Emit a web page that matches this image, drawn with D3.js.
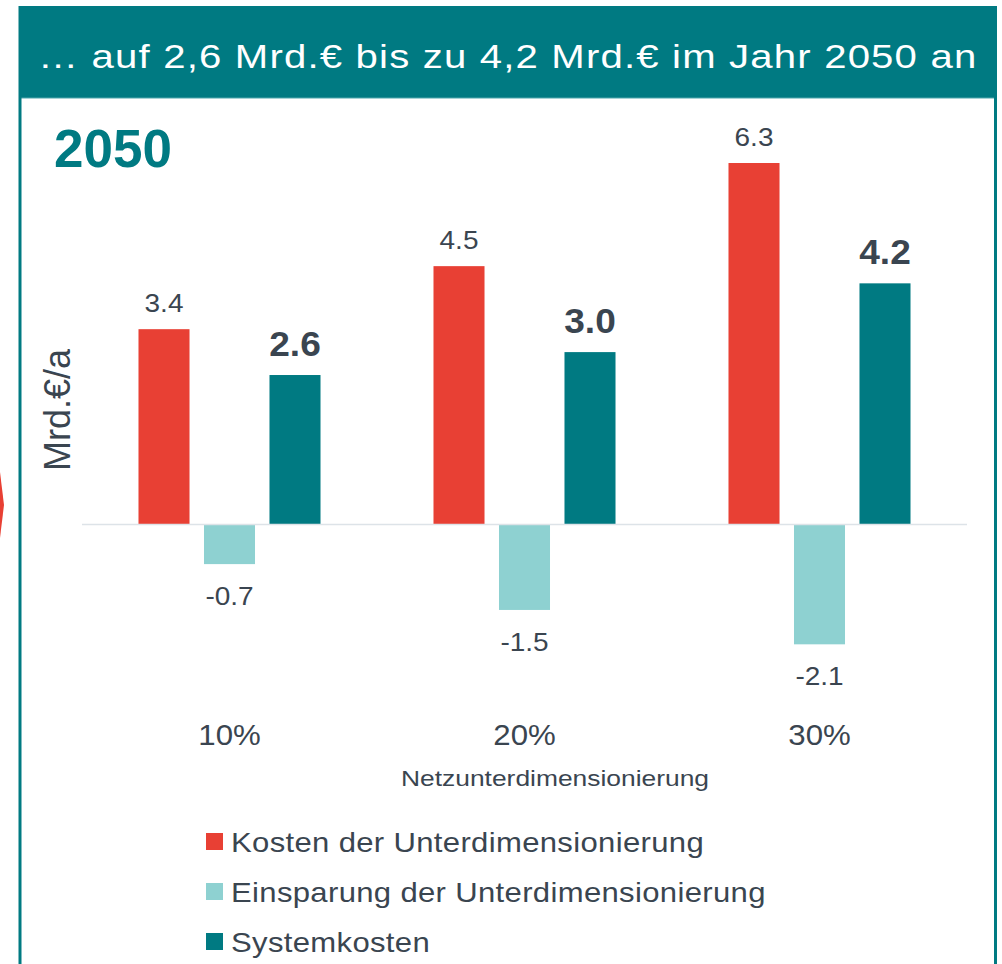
<!DOCTYPE html>
<html>
<head>
<meta charset="utf-8">
<script src="https://cdn.jsdelivr.net/npm/d3@7"></script>
<style>
  body { margin: 0; background: #fff; }
  text { font-family: "Liberation Sans", Arial, sans-serif; }
</style>
</head>
<body>
<svg id="chart"></svg>
<script>
// data
var categories = ["10%", "20%", "30%"];
var seriesNames = ["Kosten der Unterdimensionierung", "Einsparung der Unterdimensionierung", "Systemkosten"];
var kosten = [3.4, 4.5, 6.3];
var einsparung = [-0.7, -1.5, -2.1];
var systemkosten = [2.6, 3.0, 4.2];
var valueLabels = [["3.4", "4.5", "6.3"], ["-0.7", "-1.5", "-2.1"], ["2.6", "3.0", "4.2"]];
var colors = ["#e84034", "#8ed1d1", "#007a82"];

var W = 1002, H = 964;
var teal = "#007a82", dark = "#3a4550";

var svg = d3.select("#chart").attr("width", W).attr("height", H);

// text in the original is a bit wider than Arial, so stretch it horizontally
function at(x, y, sx) {
  return "translate(" + x + "," + y + ") scale(" + sx + ",1)";
}

// frame + header
svg.append("rect").attr("x", 19).attr("y", 6).attr("width", 977).attr("height", 92).attr("fill", teal);
svg.append("line").attr("x1", 19).attr("x2", 996).attr("y1", 98).attr("y2", 98).attr("stroke", "#4fa7ad").attr("stroke-width", 1);
svg.append("line").attr("x1", 20).attr("x2", 20).attr("y1", 6).attr("y2", H).attr("stroke", teal).attr("stroke-width", 3);
svg.append("line").attr("x1", 995.5).attr("x2", 995.5).attr("y1", 6).attr("y2", H).attr("stroke", teal).attr("stroke-width", 3);
svg.append("path").attr("d", "M0,472 L4,505 L0,538 Z").attr("fill", "#e84034");

svg.append("text").attr("transform", at(38, 68, 1.18)).attr("fill", "#fff")
  .style("font-size", "34px").style("letter-spacing", "1px")
  .text("… auf 2,6 Mrd.€ bis zu 4,2 Mrd.€ im Jahr 2050 an");

svg.append("text").attr("x", 54).attr("y", 167).attr("fill", teal).style("font-size", "53px").style("font-weight", "bold")
  .text("2050");

// scales
var y = d3.scaleLinear().domain([0, 1]).range([524, 466.7]);
var x0 = d3.scaleBand().domain(categories).range([82, 967]).paddingInner(0.383).paddingOuter(0.1915);
var x1 = d3.scaleBand().domain([0, 1, 2]).range([0, x0.bandwidth()]).paddingInner(0.221).paddingOuter(0);

var series = [kosten, einsparung, systemkosten];
var rows = [];
series.forEach(function(vals, s) {
  vals.forEach(function(v, i) {
    rows.push({s: s, cat: categories[i], v: v, label: valueLabels[s][i]});
  });
});

// bars
svg.append("g").selectAll("rect").data(rows).enter().append("rect")
  .attr("x", function(d) { return x0(d.cat) + x1(d.s); })
  .attr("width", x1.bandwidth())
  .attr("y", function(d) { return y(Math.max(0, d.v)); })
  .attr("height", function(d) { return Math.abs(y(d.v) - y(0)); })
  .attr("fill", function(d) { return colors[d.s]; });

// zero line
svg.append("line").attr("x1", 82).attr("x2", 967).attr("y1", y(0) + 0.5).attr("y2", y(0) + 0.5)
  .attr("stroke", "#dde3e8").attr("stroke-width", 1.5);

// value labels
svg.append("g").selectAll("text").data(rows).enter().append("text")
  .attr("transform", function(d) {
    var cx = x0(d.cat) + x1(d.s) + x1.bandwidth() / 2;
    var ty = d.v >= 0 ? y(d.v) - (d.s === 2 ? 19 : 17) : y(d.v) + 41;
    return at(cx, ty, d.s === 2 ? 1.06 : 1.12);
  })
  .attr("text-anchor", "middle")
  .attr("fill", dark)
  .style("font-size", function(d) { return d.s === 2 ? "35px" : "25px"; })
  .style("font-weight", function(d) { return d.s === 2 ? "bold" : "normal"; })
  .text(function(d) { return d.label; });

// x axis labels
var xAxis = d3.axisBottom(x0).tickSize(0).tickPadding(0);
var gx = svg.append("g").attr("transform", "translate(0,745)").call(xAxis);
gx.select(".domain").remove();
gx.selectAll("text").attr("fill", dark).attr("dy", 0)
  .style("font-size", "30px").attr("transform", "scale(1.04,1)")
  .style("font-family", "'Liberation Sans', Arial, sans-serif");

svg.append("text").attr("transform", at(555, 786, 1.2)).attr("text-anchor", "middle").attr("fill", dark)
  .style("font-size", "22px").text("Netzunterdimensionierung");

svg.append("text").attr("transform", "translate(70,410) rotate(-90)").attr("text-anchor", "middle")
  .attr("fill", dark).style("font-size", "36px").text("Mrd.€/a");

// legend
var leg = svg.append("g").selectAll("g").data(seriesNames).enter().append("g")
  .attr("transform", function(d, i) { return "translate(206," + (833 + i * 50) + ")"; });
leg.append("rect").attr("width", 17).attr("height", 17).attr("fill", function(d, i) { return colors[i]; });
leg.append("text").attr("transform", at(25, 19, 1.15)).attr("fill", dark)
  .style("font-size", "27px").style("letter-spacing", "0.3px").text(function(d) { return d; });
</script>
</body>
</html>
